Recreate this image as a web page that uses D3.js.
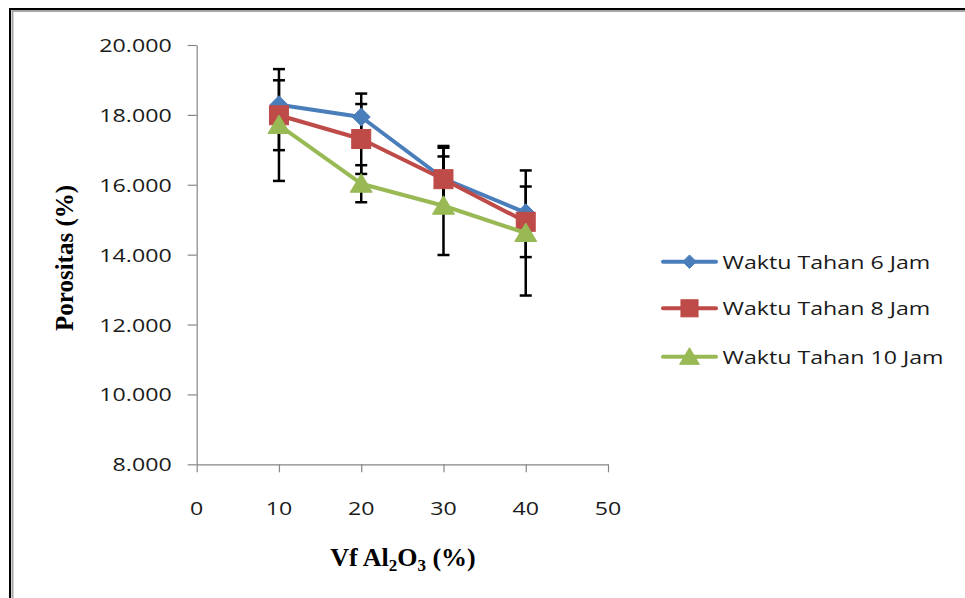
<!DOCTYPE html>
<html><head><meta charset="utf-8">
<script src="https://cdn.jsdelivr.net/npm/d3@7"></script>
<style>html,body{margin:0;padding:0;background:#fff;} svg{display:block;}</style>
</head><body><svg id="c" width="965" height="598"></svg>
<script>
const categories = [10, 20, 30, 40];
const seriesNames = ["Waktu Tahan 6 Jam", "Waktu Tahan 8 Jam", "Waktu Tahan 10 Jam"];
const values6 = [18.29, 17.94, 16.18, 15.20];
const values8 = [17.99, 17.31, 16.16, 14.94];
const values10 = [17.71, 16.03, 15.40, 14.62];
const err6 = [0.05, 0.67, 0.93, 0.05];
const err8 = [1.00, 1.00, 0.90, 1.01];
const err10 = [1.60, 0.53, 1.41, 1.79];
const xTicks = [0, 10, 20, 30, 40, 50];
const xTickLabels = ["0", "10", "20", "30", "40", "50"];
const yTicks = [8, 10, 12, 14, 16, 18, 20];
const yTickLabels = ["8.000", "10.000", "12.000", "14.000", "16.000", "18.000", "20.000"];

const colors = ["#4A7EBB", "#BE4B48", "#98B954"];
const markerTypes = ["diamond", "square", "triangle"];
const series = [
  {name: seriesNames[0], values: values6, err: err6},
  {name: seriesNames[1], values: values8, err: err8},
  {name: seriesNames[2], values: values10, err: err10}
];

const svg = d3.select("#c");
const x = d3.scaleLinear().domain([0, 50]).range([196.7, 608]);
const y = d3.scaleLinear().domain([8, 20]).range([464.3, 45]);
const TX = 1.22; // horizontal text stretch seen in the picture

// frame
svg.append("line").attr("x1", 10).attr("x2", 965).attr("y1", 9).attr("y2", 9).attr("stroke", "#000").attr("stroke-width", 2);
svg.append("line").attr("x1", 10).attr("x2", 10).attr("y1", 8).attr("y2", 598).attr("stroke", "#000").attr("stroke-width", 2);
svg.append("line").attr("x1", 12.5).attr("x2", 965).attr("y1", 11).attr("y2", 11).attr("stroke", "#a6a6a6").attr("stroke-width", 2);
svg.append("line").attr("x1", 12.5).attr("x2", 12.5).attr("y1", 10).attr("y2", 598).attr("stroke", "#a6a6a6").attr("stroke-width", 2);

// axes
const gx = svg.append("g").attr("transform", `translate(0,${y(8)})`)
  .call(d3.axisBottom(x).tickValues(xTicks).tickSize(8).tickSizeOuter(0).tickFormat(""));
const gy = svg.append("g").attr("transform", `translate(${x(0)},0)`)
  .call(d3.axisLeft(y).tickValues(yTicks).tickSize(9).tickSizeOuter(0).tickFormat(""));
[gx, gy].forEach(g => {
  g.select(".domain").attr("stroke", "#868686").attr("stroke-width", 1.2);
  g.selectAll(".tick line").attr("stroke", "#868686").attr("stroke-width", 1.2);
});

const tickFont = "'Open Sans', sans-serif";
xTicks.forEach((t, i) => {
  svg.append("text").attr("transform", `translate(${x(t)},${y(8) + 51}) scale(${TX},1)`)
    .attr("text-anchor", "middle").attr("font-family", tickFont).attr("font-size", 19)
    .attr("fill", "#1a1a1a").text(xTickLabels[i]);
});
yTicks.forEach((t, i) => {
  svg.append("text").attr("transform", `translate(${x(0) - 25},${y(t) + 7}) scale(${TX},1)`)
    .attr("text-anchor", "end").attr("font-family", tickFont).attr("font-size", 19)
    .attr("fill", "#1a1a1a").text(yTickLabels[i]);
});

// axis titles
svg.append("text").attr("transform", `translate(73,258) rotate(-90)`)
  .attr("text-anchor", "middle").attr("font-family", "'Liberation Serif', 'Times New Roman', serif")
  .attr("font-weight", "bold").attr("font-size", 25).attr("fill", "#000").text("Porositas (%)");
const xt = svg.append("text").attr("transform", `translate(403,566)`)
  .attr("text-anchor", "middle").attr("font-family", "'Liberation Serif', 'Times New Roman', serif")
  .attr("font-weight", "bold").attr("font-size", 26).attr("fill", "#000");
xt.append("tspan").text("Vf Al");
xt.append("tspan").attr("font-size", 17).attr("dy", 5).text("2");
xt.append("tspan").attr("dy", -5).text("O");
xt.append("tspan").attr("font-size", 17).attr("dy", 5).text("3");
xt.append("tspan").attr("dy", -5).text(" (%)");

// marker drawing
function marker(g, type, color, cx, cy, k) {
  k = k || 1;
  if (type === "diamond") {
    const r = 9 * k;
    g.append("path").attr("d", `M${cx},${cy - r}L${cx + r},${cy}L${cx},${cy + r}L${cx - r},${cy}Z`)
      .attr("fill", color).attr("stroke", color).attr("stroke-width", 1);
  } else if (type === "square") {
    const s = 19 * k;
    g.append("rect").attr("x", cx - s / 2).attr("y", cy - s / 2).attr("width", s).attr("height", s)
      .attr("fill", color).attr("stroke", color).attr("stroke-width", 1);
  } else {
    g.append("path").attr("d", `M${cx},${cy - 10 * k}L${cx + 11 * k},${cy + 8.5 * k}L${cx - 11 * k},${cy + 8.5 * k}Z`)
      .attr("fill", color).attr("stroke", color).attr("stroke-width", 1);
  }
}

// error bars
const eg = svg.append("g");
series.forEach(s => {
  categories.forEach((c, i) => {
    const cx = x(c), y1 = y(s.values[i] + s.err[i]), y2 = y(s.values[i] - s.err[i]);
    eg.append("line").attr("x1", cx).attr("x2", cx).attr("y1", y1).attr("y2", y2).attr("stroke", "#000").attr("stroke-width", 2.5);
    [y1, y2].forEach(yy => eg.append("line").attr("x1", cx - 6).attr("x2", cx + 6).attr("y1", yy).attr("y2", yy)
      .attr("stroke", "#000").attr("stroke-width", 2.5));
  });
});

// lines and markers
const line = d3.line().x((d, i) => x(categories[i])).y(d => y(d));
series.forEach((s, k) => {
  const g = svg.append("g");
  g.append("path").attr("d", line(s.values)).attr("fill", "none").attr("stroke", colors[k])
    .attr("stroke-width", 4).attr("stroke-linejoin", "round").attr("stroke-linecap", "round");
  s.values.forEach((v, i) => marker(g, markerTypes[k], colors[k], x(categories[i]), y(v)));
});

// legend
const legendY = [261.7, 308.3, 356.7];
series.forEach((s, k) => {
  const g = svg.append("g");
  g.append("line").attr("x1", 663).attr("x2", 716).attr("y1", legendY[k]).attr("y2", legendY[k])
    .attr("stroke", colors[k]).attr("stroke-width", 4).attr("stroke-linecap", "round");
  marker(g, markerTypes[k], colors[k], 689.5, legendY[k], k === 0 ? 0.75 : 0.9);
  g.append("text").attr("transform", `translate(722.5,${legendY[k] + 7}) scale(${TX},1)`)
    .attr("font-family", tickFont).attr("font-size", 19).attr("fill", "#1a1a1a").text(s.name);
});
</script></body></html>
